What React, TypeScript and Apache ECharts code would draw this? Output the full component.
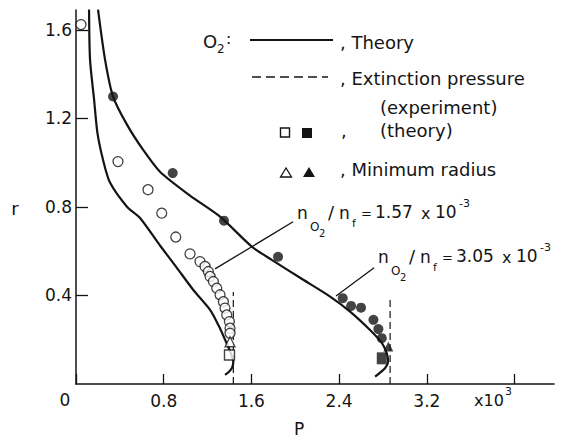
import React, { useEffect, useRef } from "react";
import * as echarts from "echarts";

// P is in units of 10^3, r is the droplet radius.
// Theory curves for the two oxygen/fuel mole-number ratios.
const theoryLean: [number, number][] = [
  [0.119, 1.692], [0.128, 1.466], [0.165, 1.285], [0.195, 1.136], [0.246, 1.014],
  [0.31, 0.91], [0.465, 0.801], [0.584, 0.75], [0.766, 0.626], [0.92, 0.525],
  [1.07, 0.425], [1.223, 0.335], [1.3, 0.265], [1.36, 0.2], [1.4, 0.155],
  [1.425, 0.12], [1.435, 0.1], [1.425, 0.075], [1.4, 0.058], [1.36, 0.041],
];
const theoryRich: [number, number][] = [
  [0.201, 1.692], [0.265, 1.466], [0.338, 1.299], [0.465, 1.172], [0.611, 1.059],
  [0.766, 0.959], [1.04, 0.851], [1.314, 0.756], [1.603, 0.621], [1.786, 0.561],
  [2.044, 0.48], [2.318, 0.395], [2.5, 0.327], [2.682, 0.244], [2.789, 0.186],
  [2.83, 0.145], [2.847, 0.104], [2.82, 0.072], [2.728, 0.033],
];

// Measured radii (open: 1.57e-3, filled: 3.05e-3)
const leanMeasured: [number, number][] = [
  [0.046, 1.624], [0.383, 1.005], [0.657, 0.878], [0.782, 0.772], [0.91, 0.664],
  [1.04, 0.588], [1.131, 0.553], [1.177, 0.531], [1.207, 0.508], [1.223, 0.486],
  [1.253, 0.463], [1.284, 0.433], [1.314, 0.403], [1.344, 0.372], [1.359, 0.343],
  [1.375, 0.312], [1.399, 0.282], [1.405, 0.252], [1.405, 0.229],
];
const richMeasured: [number, number][] = [
  [0.338, 1.299], [0.882, 0.953], [1.35, 0.738], [1.843, 0.575], [2.433, 0.388],
  [2.509, 0.353], [2.6, 0.345], [2.713, 0.29], [2.758, 0.248], [2.789, 0.207],
];

// Extinction (theory) and minimum radius points
const leanExtinctionTheory: [number, number][] = [[1.4, 0.131]];
const richExtinctionTheory: [number, number][] = [[2.789, 0.116]];
const leanMinRadius: [number, number][] = [[1.405, 0.191]];
const richMinRadius: [number, number][] = [[2.849, 0.169]];

// Extinction pressure (experiment)
const leanExtinctionExp: [number, number][] = [[1.435, 0], [1.435, 0.416]];
const richExtinctionExp: [number, number][] = [[2.865, 0], [2.865, 0.389]];

// Leader lines to the ratio labels
const leanLeader: [number, number][] = [[1.268, 0.52], [1.98, 0.733]];
const richLeader: [number, number][] = [[2.372, 0.398], [2.719, 0.525]];

const xTicks = [0, 0.8, 1.6, 2.4, 3.2, 4.0];
const xLabels = [0.8, 1.6, 2.4, 3.2];
const yTicks = [0.4, 0.8, 1.2, 1.6];

const FONT = '"DejaVu Sans", sans-serif';
const INK = "#141414";

function txt(text: string, x: number, y: number, fontSize: number, align = "left") {
  return {
    type: "text",
    x,
    y,
    silent: true,
    style: {
      text,
      fontSize,
      fontFamily: FONT,
      fill: INK,
      align,
      textAlign: align,
      verticalAlign: "middle",
      textVerticalAlign: "middle",
    },
  };
}

function ratioLabel(x: number, y: number, value: string) {
  return [
    txt("n", x, y, 17),
    txt("O", x + 13, y + 14, 12),
    txt("2", x + 22, y + 20, 10),
    txt("/", x + 31, y - 1, 18),
    txt("n", x + 42, y, 17),
    txt("f", x + 55, y + 10, 11),
    txt("=", x + 64, y, 13),
    txt(value, x + 78, y - 1, 17),
    txt("x", x + 124, y, 16),
    txt("10", x + 138, y - 1, 17),
    txt("-3", x + 162, y - 10, 11),
  ];
}

const graphic = [
  // legend
  txt("O", 203, 41, 18),
  txt("2", 217, 49, 12),
  txt(":", 226, 38, 16),
  { type: "line", silent: true, shape: { x1: 250, y1: 40, x2: 333, y2: 40 }, style: { stroke: INK, lineWidth: 2.2 } },
  txt(", Theory", 340, 42, 18),
  { type: "line", silent: true, shape: { x1: 252, y1: 77, x2: 328, y2: 77 }, style: { stroke: INK, lineWidth: 1.3, lineDash: [9, 5] } },
  txt(", Extinction pressure", 340, 78, 18),
  txt("(experiment)", 380, 107, 18),
  { type: "rect", silent: true, shape: { x: 280.5, y: 128, width: 9, height: 9 }, style: { fill: "#fff", stroke: INK, lineWidth: 1.4 } },
  { type: "rect", silent: true, shape: { x: 302, y: 128, width: 10, height: 10 }, style: { fill: INK } },
  txt(",", 341, 130, 18),
  txt("(theory)", 380, 130, 18),
  { type: "polygon", silent: true, shape: { points: [[286, 168], [280.5, 177], [291.5, 177]] }, style: { fill: "#fff", stroke: INK, lineWidth: 1.3 } },
  { type: "polygon", silent: true, shape: { points: [[309, 167], [303, 177], [315, 177]] }, style: { fill: INK } },
  txt(", Minimum radius", 340, 169, 18),
  // ratio labels
  ...ratioLabel(297, 213, "1.57"),
  ...ratioLabel(378, 257, "3.05"),
  // axis names and extra labels
  txt("r", 15, 208, 18, "center"),
  txt("P", 299, 429, 17, "center"),
  txt("0", 65, 400, 17, "center"),
  txt("x10", 474, 400, 16),
  txt("3", 505, 391, 11),
];

const lineSeries = (data: [number, number][], width: number, dash?: number[]) => ({
  type: "line",
  data,
  showSymbol: false,
  symbol: "none",
  smooth: dash ? false : 0.25,
  silent: true,
  lineStyle: { color: INK, width, type: dash ?? "solid" },
  z: 2,
});

const option = {
  animation: false,
  backgroundColor: "#ffffff",
  grid: { left: 76, right: 11, top: 10, bottom: 57 },
  xAxis: {
    type: "value",
    min: 0,
    max: 4.36,
    interval: 0.8,
    splitLine: { show: false },
    axisLine: { show: true, onZero: false, lineStyle: { color: INK, width: 1.5 } },
    axisTick: { show: true, inside: true, length: 10, customValues: xTicks, lineStyle: { color: INK, width: 1.3 } },
    axisLabel: {
      customValues: xLabels,
      formatter: (v: number) => v.toFixed(1),
      fontSize: 17,
      fontFamily: FONT,
      color: INK,
      margin: 8,
    },
  },
  yAxis: {
    type: "value",
    min: 0,
    max: 1.69,
    interval: 0.4,
    splitLine: { show: false },
    axisLine: { show: true, onZero: false, lineStyle: { color: INK, width: 1.5 } },
    axisTick: { show: true, inside: true, length: 12, customValues: yTicks, lineStyle: { color: INK, width: 1.3 } },
    axisLabel: {
      customValues: yTicks,
      formatter: (v: number) => v.toFixed(1),
      fontSize: 17,
      fontFamily: FONT,
      color: INK,
      margin: 4,
    },
  },
  series: [
    lineSeries(theoryLean, 2.2),
    lineSeries(theoryRich, 2.2),
    lineSeries(leanExtinctionExp, 1.2, [7, 4]),
    lineSeries(richExtinctionExp, 1.2, [7, 4]),
    lineSeries(leanLeader, 1.3),
    lineSeries(richLeader, 1.3),
    {
      type: "scatter",
      data: leanMeasured,
      symbol: "circle",
      symbolSize: 10,
      silent: true,
      itemStyle: { color: "#fff", borderColor: INK, borderWidth: 1.3 },
      z: 3,
    },
    {
      type: "scatter",
      data: richMeasured,
      symbol: "circle",
      symbolSize: 10,
      silent: true,
      itemStyle: { color: INK },
      z: 3,
    },
    {
      type: "scatter",
      data: leanMinRadius,
      symbol: "triangle",
      symbolSize: 10,
      silent: true,
      itemStyle: { color: "#fff", borderColor: INK, borderWidth: 1.3 },
      z: 4,
    },
    {
      type: "scatter",
      data: leanExtinctionTheory,
      symbol: "rect",
      symbolSize: 10,
      silent: true,
      itemStyle: { color: "#fff", borderColor: INK, borderWidth: 1.4 },
      z: 4,
    },
    {
      type: "scatter",
      data: richMinRadius,
      symbol: "triangle",
      symbolSize: 10,
      silent: true,
      itemStyle: { color: INK },
      z: 4,
    },
    {
      type: "scatter",
      data: richExtinctionTheory,
      symbol: "rect",
      symbolSize: [10, 12],
      silent: true,
      itemStyle: { color: INK },
      z: 4,
    },
  ],
  graphic,
};

export default function App() {
  const ref = useRef<HTMLDivElement>(null);
  useEffect(() => {
    document.body.style.margin = "0";
    const chart = echarts.init(ref.current!, null, { renderer: "svg" });
    chart.setOption(option as any);
    return () => chart.dispose();
  }, []);
  return <div ref={ref} style={{ width: 565, height: 441, background: "#fff" }} />;
}
